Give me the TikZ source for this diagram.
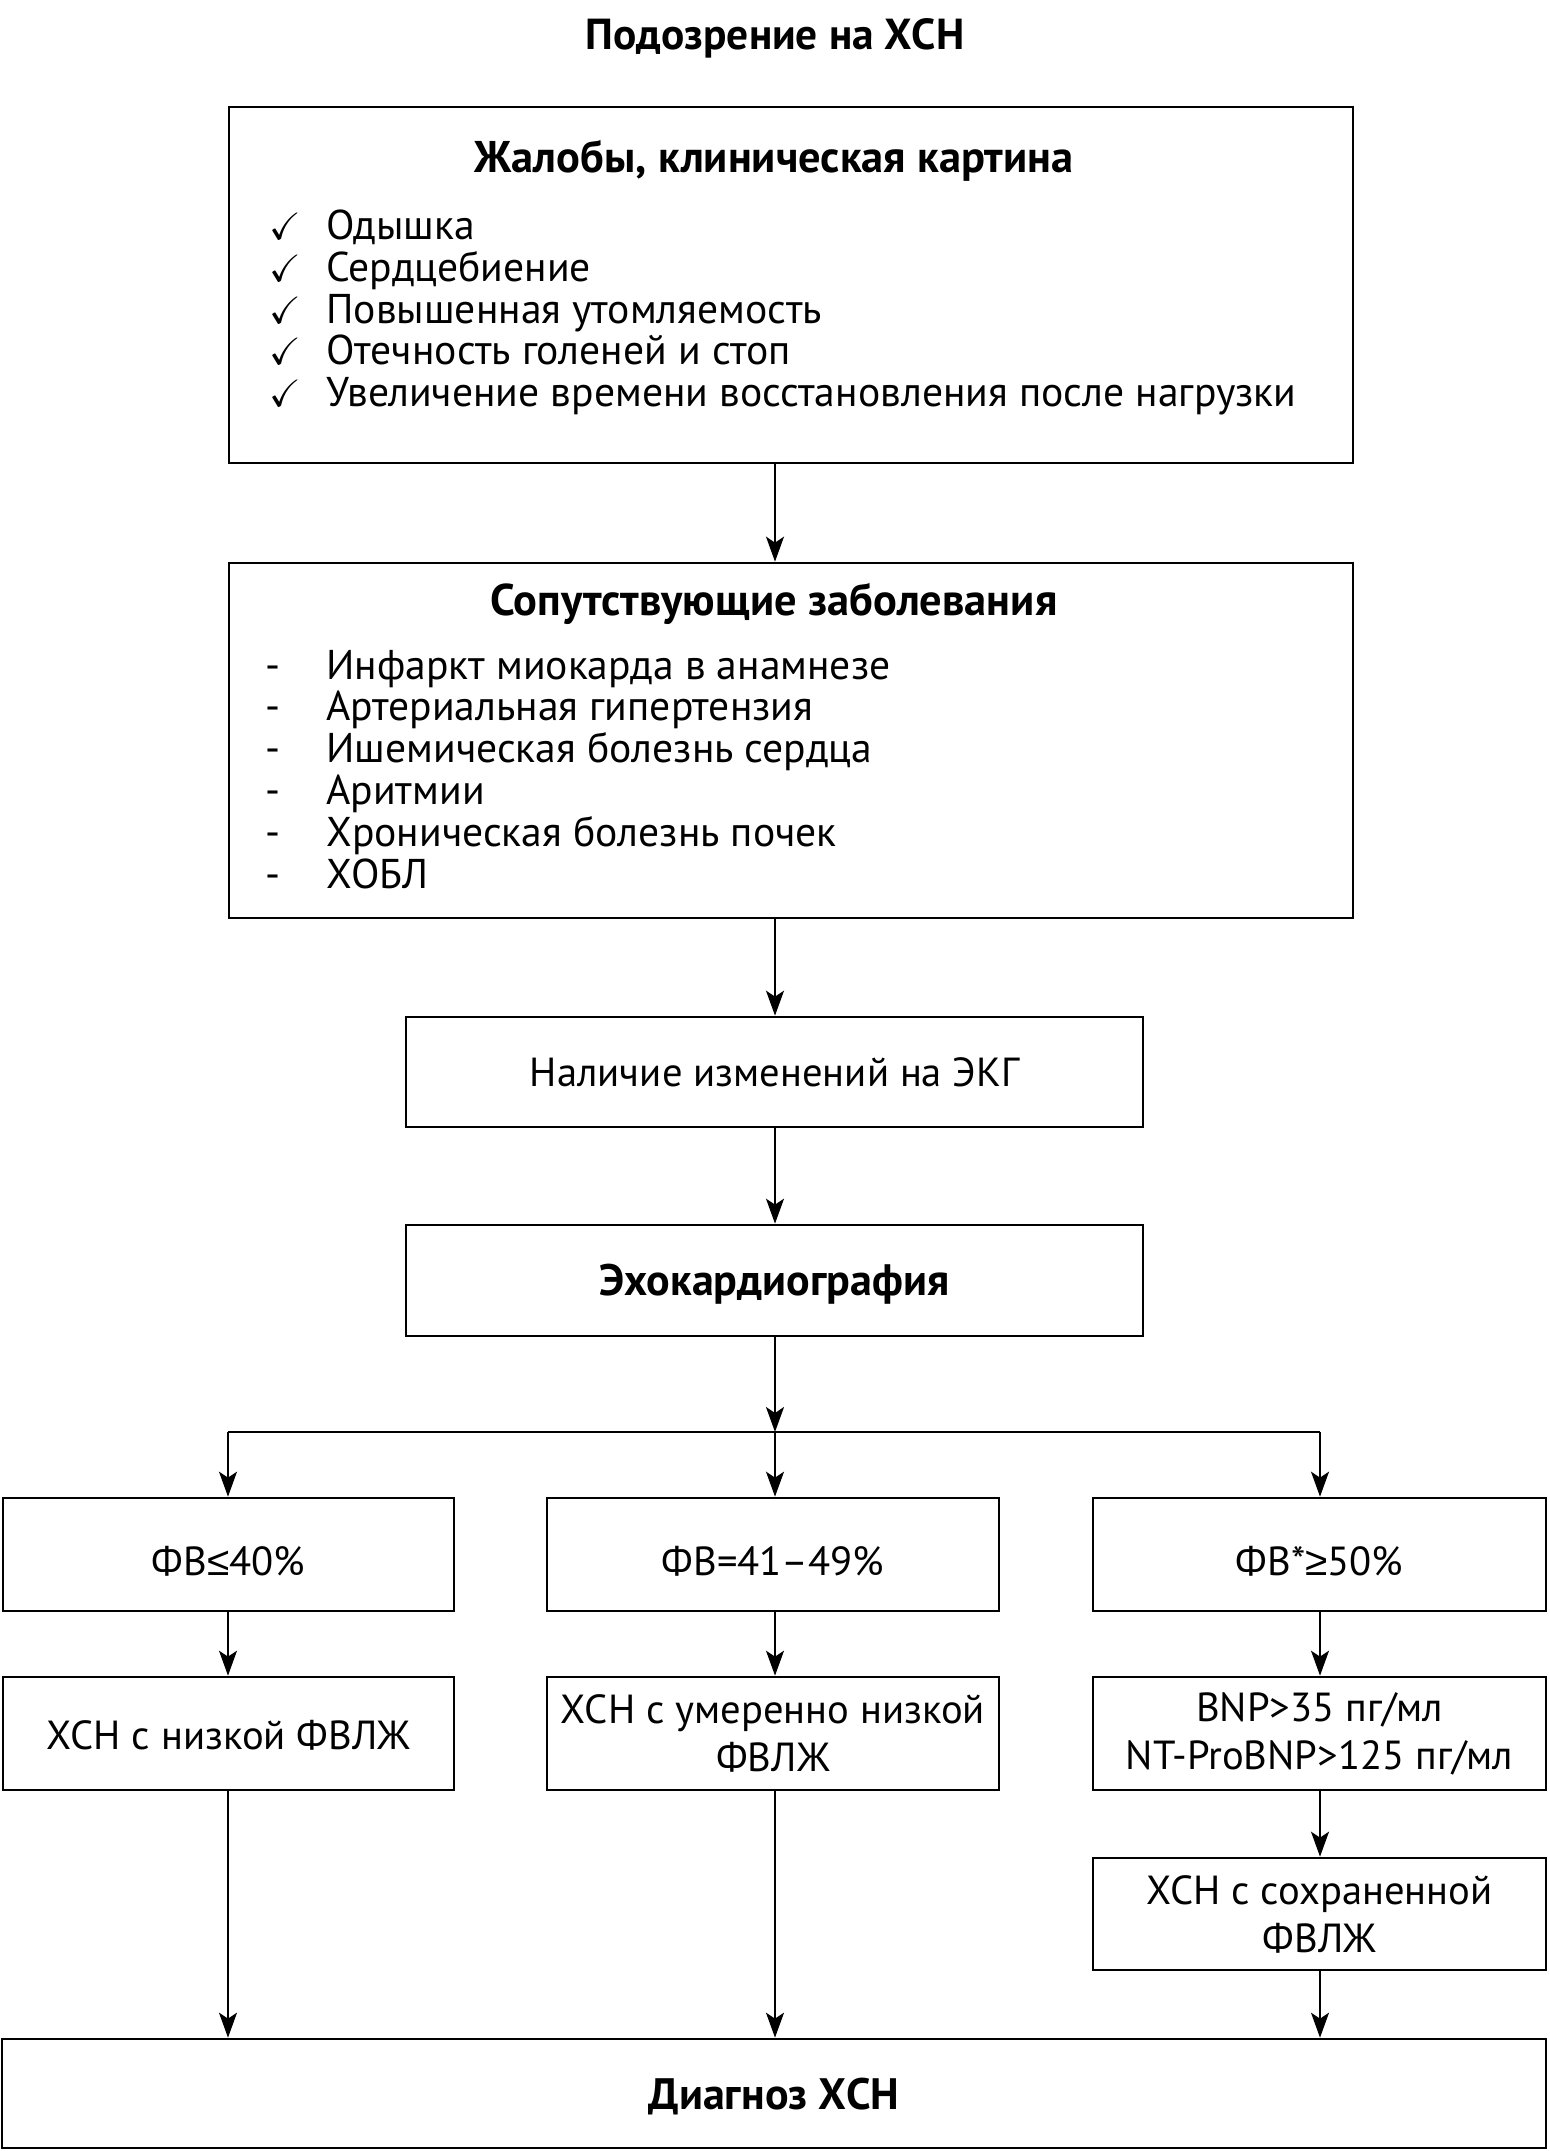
\documentclass[tikz,border=0pt]{standalone}
\usepackage{amssymb}
\usepackage{fontspec}
\setmainfont{PT Sans}
\newfontfamily\symf{Liberation Sans}
\usetikzlibrary{arrows.meta,calc}
\newcommand\lowered[2]{\raisebox{-#1}[\height][\depth]{#2}}
\begin{document}
\begin{tikzpicture}[x=0.5pt,y=-0.5pt,
  box/.style={draw,line width=1.35pt,inner sep=0pt,align=center,
    font=\fontsize{20.3}{24}\selectfont},
  boldbox/.style={box,font=\fontsize{22}{26}\selectfont\bfseries},
  hd/.style={font=\fontsize{22.2}{26}\selectfont\bfseries, inner sep=0pt, anchor=base},
  item/.style={font=\fontsize{20.8}{24}\selectfont, inner sep=0pt, anchor=base west},
  chk/.style={font=\fontsize{19}{22}\selectfont, inner sep=0pt, anchor=base west},
  arr/.style={line width=1pt,-{Stealth[length=12.5pt,width=9pt,inset=3pt]}},
  ln/.style={line width=1.35pt}
]
\useasboundingbox (0,0) rectangle (1549,2151);

\node[hd,font=\fontsize{21.7}{26}\selectfont\bfseries] (title) at (775,50) {Подозрение на ХСН};

% box 1
\node[box,minimum width=562pt,minimum height=178pt] (b1) at (791,285) {};
\node[hd] (h1) at (774,173) {Жалобы, клиническая картина};
\foreach \t [count=\i] in {Одышка,Сердцебиение,Повышенная утомляемость,Отечность голеней и стоп,Увеличение времени восстановления после нагрузки}{
  \node[chk] (c\i) at (269,{240+41.5*(\i-1)}) {$\checkmark$};
  \node[item] (s\i) at (326,{240+41.5*(\i-1)}) {\t};
}

% box 2
\node[box,minimum width=562pt,minimum height=177.5pt] (b2) at (791,740.5) {};
\node[hd] (h2) at (774,615) {Сопутствующие заболевания};
\foreach \t [count=\i] in {Инфаркт миокарда в анамнезе,Артериальная гипертензия,Ишемическая болезнь сердца,Аритмии,Хроническая болезнь почек,ХОБЛ}{
  \node[item] (d\i) at (265,{679+41.8*(\i-1)}) {-};
  \node[item] (z\i) at (326,{679+41.8*(\i-1)}) {\t};
}

% boxes 3, 4
\node[box,minimum width=368.5pt,minimum height=55pt] (b3) at (774.5,1072) {Наличие изменений на ЭКГ};
\node[boldbox,minimum width=368.5pt,minimum height=55.5pt] (b4) at (774.5,1280.5) {\lowered{2pt}{Эхокардиография}};

% row 1
\node[box,minimum width=225.5pt,minimum height=56.5pt] (fa) at (228.5,1554.5) {\lowered{3.5pt}{ФВ{\symf ≤}40\%}};
\node[box,minimum width=226pt,minimum height=56.5pt] (fb) at (773,1554.5) {\lowered{3.5pt}{ФВ=41–49\%}};
\node[box,minimum width=226.5pt,minimum height=56.5pt] (fc) at (1319.5,1554.5) {\lowered{3.5pt}{ФВ*{\symf ≥}50\%}};

% row 2
\node[box,minimum width=225.5pt,minimum height=56.5pt] (ga) at (228.5,1733.5) {\lowered{1pt}{ХСН с низкой ФВЛЖ}};
\node[box,minimum width=226pt,minimum height=56.5pt] (gb) at (773,1733.5) {ХСН с умеренно низкой\\ФВЛЖ};
\node[box,minimum width=226.5pt,minimum height=56.5pt] (gc) at (1319.5,1733.5) {BNP>35 пг/мл\\NT-ProBNP>125 пг/мл};

\node[box,minimum width=226.5pt,minimum height=56pt] (gd) at (1319.5,1914) {ХСН с сохраненной\\ФВЛЖ};

\node[boldbox,minimum width=772pt,minimum height=54.5pt] (fin) at (774,2093.5) {\lowered{1.3pt}{Диагноз ХСН}};

% connectors
\coordinate (ax) at (775,0);
\coordinate (jc) at (775,1432);
\coordinate (jl) at (228,1432);
\coordinate (jr) at (1320,1432);
\draw[arr] (b1.south -| ax) -- (b2.north -| ax);
\draw[arr] (b2.south -| ax) -- (b3.north -| ax);
\draw[arr] (b3.south -| ax) -- (b4.north -| ax);
\draw[arr] (b4.south -| ax) -- (jc);
\draw[ln] (jl) -- (jr);
\draw[arr] (jl) -- (fa.north -| jl);
\draw[arr] (jc) -- (fb.north -| jc);
\draw[arr] (jr) -- (fc.north -| jr);
\draw[arr] (fa.south -| jl) -- (ga.north -| jl);
\draw[arr] (fb.south -| jc) -- (gb.north -| jc);
\draw[arr] (fc.south -| jr) -- (gc.north -| jr);
\draw[arr] (gc.south -| jr) -- (gd.north -| jr);
\draw[arr] (ga.south -| jl) -- (fin.north -| jl);
\draw[arr] (gb.south -| jc) -- (fin.north -| jc);
\draw[arr] (gd.south -| jr) -- (fin.north -| jr);
\end{tikzpicture}
\end{document}
